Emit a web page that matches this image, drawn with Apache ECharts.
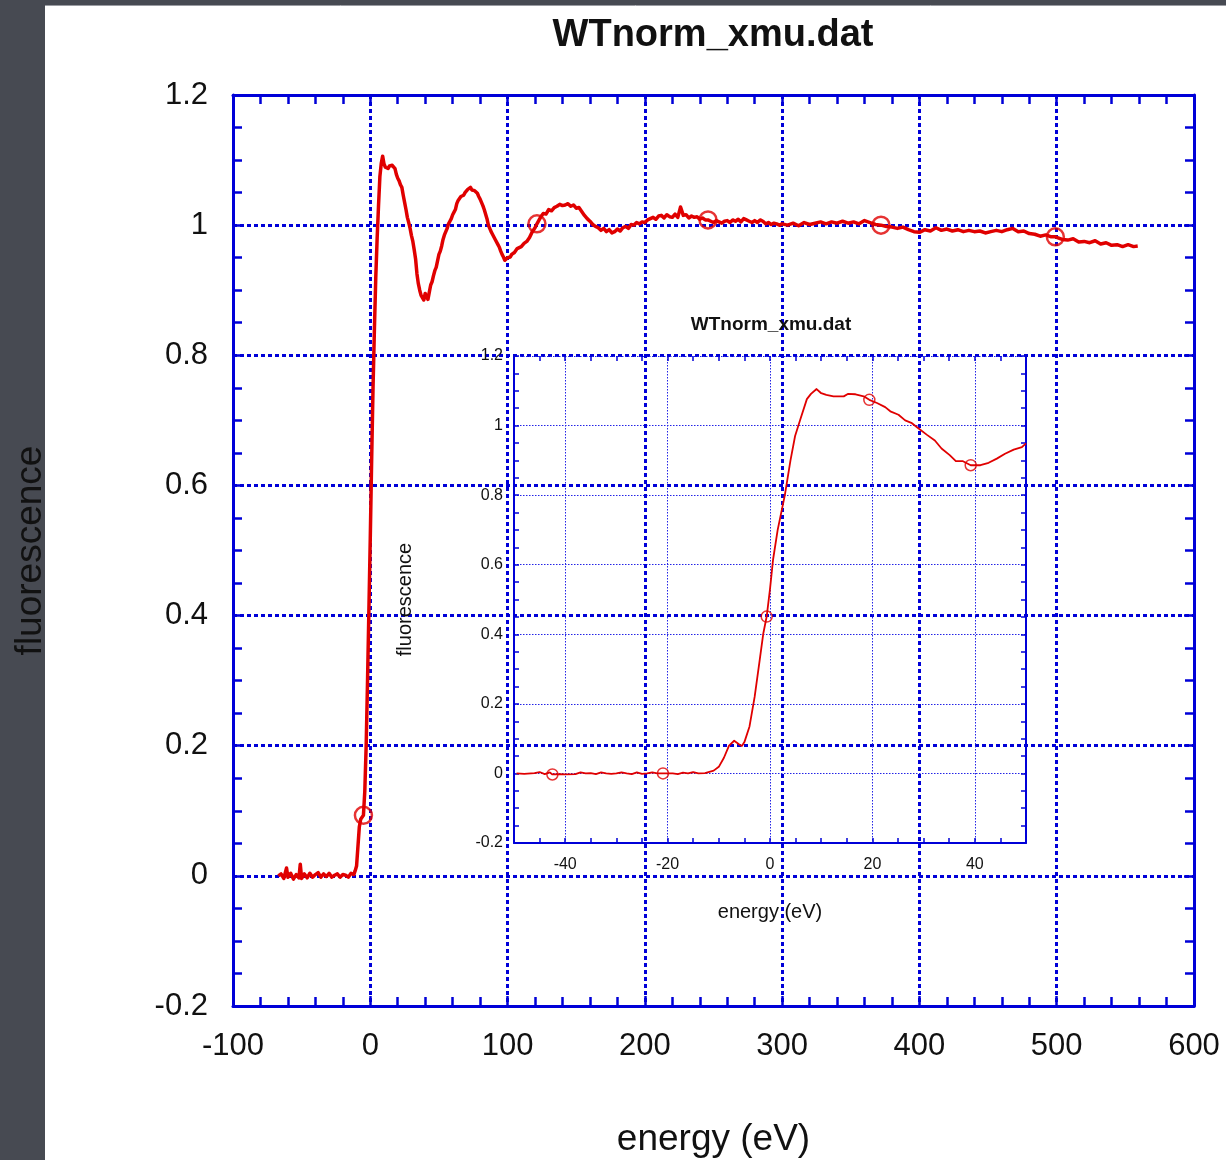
<!DOCTYPE html>
<html>
<head>
<meta charset="utf-8">
<title>WTnorm_xmu.dat</title>
<script src="https://cdn.jsdelivr.net/npm/echarts@6/dist/echarts.min.js"></script>
<style>
  html, body { margin: 0; padding: 0; background: #474a52; }
  #chart { width: 1226px; height: 1160px; }
</style>
</head>
<body>
<div id="chart"></div>
<script>
// Normalized fluorescence scan, [energy (eV), fluorescence]
const fullScan = [
  [-67,0.000],[-65,0.003],[-63,-0.004],[-61,0.012],[-60,-0.002],[-58,0.004],[-56,-0.005],[-54,0.002],
  [-52,-0.003],[-51,0.018],[-50,-0.004],[-48,0.003],[-46,-0.003],[-44,0.004],[-42,-0.002],[-40,0.002],
  [-38,0.005],[-36,-0.002],[-34,0.003],[-32,-0.001],[-30,0.004],[-28,-0.002],[-26,0.001],[-24,0.003],
  [-22,-0.002],[-20,0.002],[-18,0.001],[-16,-0.002],[-14,0.004],[-12,0.002],[-11,0.008],[-10,0.015],
  [-9,0.045],[-8,0.075],[-7,0.087],[-6,0.090],[-5,0.093],[-4,0.130],[-3,0.200],[-2,0.300],[-1,0.410],
  [0,0.520],[1,0.640],[2,0.750],[3,0.840],[4,0.920],[5,0.980],[6,1.030],[7,1.075],[8,1.095],[9,1.106],
  [10,1.094],[11,1.089],[12,1.088],[13,1.087],[14,1.091],[15,1.094],[16,1.092],[17,1.089],[18,1.087],
  [19,1.078],[20,1.072],[21,1.068],[22,1.062],[23,1.058],[24,1.046],[25,1.035],[26,1.024],[27,1.012],
  [28,1.004],[29,0.995],[30,0.984],[31,0.975],[32,0.962],[33,0.948],[34,0.925],[35,0.910],[36,0.900],
  [37,0.892],[38,0.889],[39,0.885],[40,0.895],[41,0.890],[42,0.886],[43,0.897],[44,0.908],[45,0.913],
  [46,0.922],[47,0.930],[48,0.935],[49,0.945],[50,0.955],[51,0.960],[52,0.968],[53,0.978],[54,0.985],
  [55,0.990],[56,0.995],[57,1.002],[58,1.006],[59,1.010],[60,1.016],[61,1.020],[62,1.024],[63,1.033],
  [64,1.038],[65,1.040],[66,1.044],[67,1.047],[68,1.046],[69,1.050],[70,1.052],[71,1.055],[72,1.057],
  [73,1.058],[74,1.054],[75,1.057],[76,1.053],[77,1.055],[78,1.049],[79,1.044],[80,1.040],[81,1.038],
  [82,1.030],[83,1.024],[84,1.021],[85,1.010],[86,1.000],[87,0.995],[88,0.990],[89,0.986],[90,0.985],
  [91,0.978],[92,0.975],[93,0.970],[94,0.966],[95,0.960],[96,0.955],[97,0.951],[98,0.946],[99,0.946],
  [100,0.950],[101,0.952],[102,0.951],[103,0.955],[104,0.953],[105,0.958],[106,0.960],[107,0.964],
  [108,0.962],[110,0.967],[112,0.972],[114,0.975],[116,0.981],[118,0.990],[120,0.996],[121.4,1.002],
  [124,1.012],[126,1.018],[128,1.017],[130,1.024],[132,1.022],[134,1.027],[136,1.029],[138,1.032],
  [140,1.030],[142,1.031],[144,1.033],[146,1.029],[148,1.031],[150,1.026],[152,1.027],[154,1.021],
  [156,1.015],[158,1.010],[160,1.006],[162,1.001],[164,0.998],[166,0.996],[168,0.992],[170,0.995],
  [172,0.990],[174,0.993],[176,0.988],[178,0.990],[180,0.994],[182,0.991],[184,0.996],[186,0.998],
  [188,0.995],[190,1.001],[192,1.000],[194,1.004],[196,1.002],[198,1.005],[200,1.004],[202,1.008],
  [204,1.010],[206,1.012],[208,1.009],[210,1.014],[212,1.015],[214,1.011],[216,1.016],[218,1.013],
  [220,1.012],[222,1.017],[224,1.012],[226,1.028],[228,1.015],[230,1.016],[232,1.011],[234,1.014],
  [236,1.012],[238,1.013],[240,1.009],[242,1.011],[244,1.008],[246,1.008],[248,1.006],[250,1.004],
  [252,1.007],[254,1.005],[256,1.003],[258,1.006],[260,1.007],[262,1.004],[264,1.008],[266,1.006],
  [268,1.009],[270,1.005],[272,1.010],[274,1.008],[276,1.006],[278,1.004],[280,1.007],[282,1.004],
  [284,1.008],[286,1.006],[288,1.002],[290,1.004],[292,1.001],[294,1.003],[296,1.002],[298,1.000],
  [300,1.002],[304,1.000],[308,1.003],[312,0.999],[316,1.004],[320,1.001],[324,1.003],[328,1.005],
  [332,1.002],[336,1.005],[340,1.003],[344,1.006],[348,1.003],[352,1.005],[356,1.002],[360,1.007],
  [364,1.004],[368,1.001],[372,1.000],[376,0.998],[380,0.997],[384,0.995],[388,0.997],[392,0.993],
  [396,0.990],[400,0.989],[404,0.993],[408,0.991],[412,0.996],[416,0.992],[420,0.994],[424,0.991],
  [428,0.993],[432,0.990],[436,0.992],[440,0.990],[444,0.991],[448,0.988],[452,0.990],[456,0.992],
  [460,0.990],[464,0.993],[468,0.995],[472,0.990],[476,0.991],[480,0.987],[484,0.986],[488,0.983],
  [492,0.985],[496,0.982],[499,0.982],[504,0.978],[508,0.977],[512,0.979],[516,0.974],[520,0.975],
  [524,0.973],[528,0.976],[532,0.971],[536,0.973],[540,0.969],[544,0.970],[548,0.967],[552,0.970],
  [556,0.967],[559,0.968]
];
// Knots marked on the full scan
const fullKnots = [[-5,0.093],[121.4,1.002],[246,1.008],[372,1.000],[499,0.982]];

// Close-up of the edge region
const edgeScan = [
  [-49.5,0.000],[-48,-0.001],[-46,0.001],[-45,0.004],[-44,-0.002],[-43,0.003],[-42.5,-0.003],
  [-41,-0.002],[-40,-0.003],[-38,-0.002],[-37,0.003],[-36,0.000],[-35,0.001],[-34,-0.002],[-33,0.003],
  [-32,0.000],[-31,-0.001],[-30,0.000],[-29,0.003],[-28,0.000],[-27,-0.002],[-26,0.003],[-25,-0.001],
  [-24,0.000],[-23,0.003],[-22,0.000],[-20.9,0.000],[-20,0.000],[-19,0.000],[-18,-0.002],[-17,0.002],
  [-16,0.000],[-15,0.004],[-14,0.000],[-12.7,0.001],[-11,0.008],[-10,0.019],[-9,0.045],[-8,0.080],
  [-7,0.094],[-6,0.083],[-5.5,0.079],[-5,0.090],[-4,0.135],[-3,0.220],[-2,0.327],[-1.3,0.403],
  [-0.65,0.451],[0,0.530],[0.6,0.615],[1.5,0.700],[2.9,0.800],[4,0.900],[4.9,0.970],[5.9,1.017],
  [7.2,1.076],[8,1.091],[9.1,1.105],[10,1.093],[11,1.088],[12.4,1.084],[14.4,1.084],[15.2,1.091],
  [16.7,1.090],[18.3,1.084],[19.4,1.074],[20.9,1.065],[22.5,1.053],[23.5,1.041],[25.1,1.031],
  [26.4,1.015],[27.6,1.008],[28.9,0.993],[30.6,0.974],[32.2,0.957],[33.5,0.934],[35.1,0.915],
  [36.3,0.898],[37.6,0.898],[39.2,0.886],[41.1,0.886],[42.7,0.893],[44.3,0.905],[45.9,0.919],
  [47.6,0.931],[49.2,0.938],[50,0.949]
];
const edgeKnots = [[-42.5,-0.003],[-20.9,0.000],[-0.65,0.451],[19.4,1.074],[39.2,0.886]];

const titleText = 'WTnorm_xmu.dat';
const xName = 'energy (eV)';
const yName = 'fluorescence';

const BLUE = '#0000d8';
const GRID_BLUE = '#2424e6';
const RED = '#e00000';
const INK = '#111111';
const FONT = 'Liberation Sans, Arial, Helvetica, sans-serif';

// Outer frame: ticks on all four sides, labels only bottom/left
function mainX(position, labelled) {
  return {
    gridIndex: 0, type: 'value', position: position,
    min: -100, max: 600, interval: 100,
    name: labelled ? xName : '', nameLocation: 'middle', nameGap: 115,
    nameTextStyle: { fontSize: 37, color: INK, fontFamily: FONT },
    axisLine: { show: true, onZero: false, lineStyle: { color: BLUE, width: 3 } },
    axisTick: { show: true, inside: true, length: 10, lineStyle: { color: BLUE, width: 2.5 } },
    minorTick: { show: true, splitNumber: 5, length: 9, lineStyle: { color: BLUE, width: 2.5 } },
    splitLine: { show: labelled, lineStyle: { color: BLUE, width: 3, type: [4, 3] } },
    axisLabel: { show: labelled, fontSize: 31, color: INK, fontFamily: FONT, margin: 25 }
  };
}
function mainY(position, labelled) {
  return {
    gridIndex: 0, type: 'value', position: position,
    min: -0.2, max: 1.2, interval: 0.2,
    name: labelled ? yName : '', nameLocation: 'middle', nameGap: 184,
    nameTextStyle: { fontSize: 37, color: INK, fontFamily: FONT },
    axisLine: { show: true, onZero: false, lineStyle: { color: BLUE, width: 3 } },
    axisTick: { show: true, inside: true, length: 10, lineStyle: { color: BLUE, width: 2.5 } },
    minorTick: { show: true, splitNumber: 4, length: 9, lineStyle: { color: BLUE, width: 2.5 } },
    splitLine: { show: labelled, lineStyle: { color: BLUE, width: 3, type: [4, 3] } },
    axisLabel: { show: labelled, fontSize: 31, color: INK, fontFamily: FONT, margin: 25 }
  };
}
// Close-up frame
const insetXMain = {
  gridIndex: 1, type: 'value', position: 'bottom',
  min: -50, max: 50, splitNumber: 5,
  name: xName, nameLocation: 'middle', nameGap: 59,
  nameTextStyle: { fontSize: 20, color: INK, fontFamily: FONT },
  axisLine: { show: true, onZero: false, lineStyle: { color: BLUE, width: 2 } },
  axisTick: { show: false },
  splitLine: { show: true, lineStyle: { color: GRID_BLUE, width: 1, type: [1.5, 1.5] } },
  axisLabel: { fontSize: 16, color: INK, fontFamily: FONT, margin: 14, showMinLabel: false, showMaxLabel: false }
};
function insetXTicks(position) {
  return {
    gridIndex: 1, type: 'value', position: position,
    min: -50, max: 50, interval: 5,
    axisLine: { show: false, onZero: false },
    axisTick: { show: true, inside: true, length: 5, lineStyle: { color: BLUE, width: 1.5 } },
    splitLine: { show: false },
    axisLabel: { show: false }
  };
}
function insetY(position, labelled) {
  return {
    gridIndex: 1, type: 'value', position: position,
    min: -0.2, max: 1.2, interval: 0.2,
    name: labelled ? yName : '', nameLocation: 'middle', nameGap: 99,
    nameTextStyle: { fontSize: 20, color: INK, fontFamily: FONT },
    axisLine: { show: true, onZero: false, lineStyle: { color: BLUE, width: 2 } },
    axisTick: { show: true, inside: true, length: 5, lineStyle: { color: BLUE, width: 1.5 } },
    minorTick: { show: true, splitNumber: 4, length: 5, lineStyle: { color: BLUE, width: 1.5 } },
    splitLine: { show: labelled, lineStyle: { color: GRID_BLUE, width: 1, type: [1.5, 1.5] } },
    axisLabel: { show: labelled, fontSize: 16, color: INK, fontFamily: FONT, margin: 11 }
  };
}

const chart = echarts.init(document.getElementById('chart'), null, { renderer: 'canvas' });
chart.setOption({
  animation: false,
  backgroundColor: '#474a52',
  textStyle: { fontFamily: FONT },
  graphic: [
    { type: 'rect', z: -10, silent: true, shape: { x: 45, y: 5, width: 1181, height: 1155 }, style: { fill: '#ffffff' } },
    { type: 'line', z: -9, silent: true, shape: { x1: 45, y1: 5.5, x2: 1226, y2: 5.5 }, style: { stroke: '#9a9ca2', lineWidth: 1 } }
  ],
  title: [
    { text: titleText, left: 713, top: 17, padding: 0, textAlign: 'center',
      textStyle: { fontSize: 38, fontWeight: 'bold', color: INK, fontFamily: FONT } },
    { text: titleText, left: 771, top: 315, padding: 0, textAlign: 'center',
      textStyle: { fontSize: 19, fontWeight: 'bold', color: INK, fontFamily: FONT } }
  ],
  grid: [
    { left: 233, top: 95, width: 961, height: 911, outerBoundsMode: 'none' },
    { left: 514, top: 356, width: 512, height: 487, outerBoundsMode: 'none' }
  ],
  xAxis: [
    mainX('bottom', true),
    mainX('top', false),
    insetXMain,
    insetXTicks('bottom'),
    insetXTicks('top')
  ],
  yAxis: [
    mainY('left', true),
    mainY('right', false),
    insetY('left', true),
    insetY('right', false)
  ],
  series: [
    { type: 'line', xAxisIndex: 0, yAxisIndex: 0, data: fullScan, symbol: 'none', z: 3,
      lineStyle: { color: RED, width: 3.5, join: 'round' } },
    { type: 'scatter', xAxisIndex: 0, yAxisIndex: 0, data: fullKnots, symbol: 'circle', symbolSize: 17, z: 4,
      itemStyle: { color: 'rgba(0,0,0,0)', borderColor: RED, borderWidth: 2.5 } },
    { type: 'line', xAxisIndex: 2, yAxisIndex: 2, data: edgeScan, symbol: 'none', z: 3,
      lineStyle: { color: RED, width: 1.8, join: 'round' } },
    { type: 'scatter', xAxisIndex: 2, yAxisIndex: 2, data: edgeKnots, symbol: 'circle', symbolSize: 11, z: 4,
      itemStyle: { color: 'rgba(0,0,0,0)', borderColor: RED, borderWidth: 1.5 } }
  ]
});
</script>
</body>
</html>
